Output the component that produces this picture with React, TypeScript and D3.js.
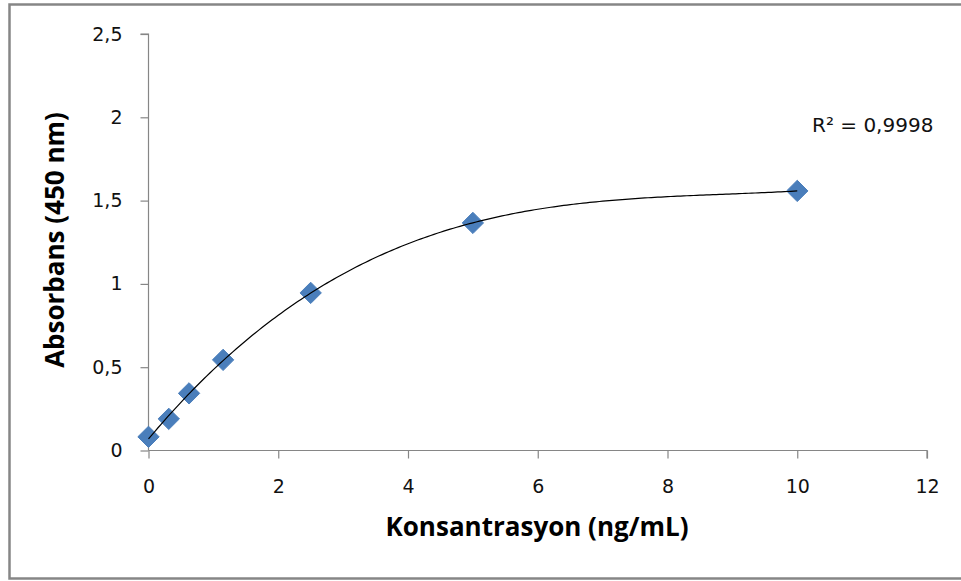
import React, { useEffect, useRef } from 'react'
import * as d3 from 'd3'

const concentrations = [0, 0.3125, 0.625, 1.15, 2.5, 5, 10]
const absorbance = [0.082, 0.19, 0.343, 0.544, 0.946, 1.366, 1.558]
const xTicks = [0, 2, 4, 6, 8, 10, 12]
const yTicks = [0, 0.5, 1, 1.5, 2, 2.5]
const xTitle = 'Konsantrasyon (ng/mL)'
const yTitle = 'Absorbans (450 nm)'
const r2Label = 'R² = 0,9998'

const W = 961
const H = 581
const tickFont = '"DejaVu Sans", sans-serif'
const titleFont = '"Open Sans", sans-serif'

// least squares polynomial fit (Excel trendline, order 3)
function polyFit (xs: number[], ys: number[], order: number) {
  const n = order + 1
  const A: number[][] = []
  for (let i = 0; i < n; i++) {
    A.push([])
    for (let j = 0; j <= n; j++) A[i].push(0)
  }
  xs.forEach((x, k) => {
    for (let i = 0; i < n; i++) {
      for (let j = 0; j < n; j++) A[i][j] += Math.pow(x, i + j)
      A[i][n] += ys[k] * Math.pow(x, i)
    }
  })
  for (let c = 0; c < n; c++) {
    let p = c
    for (let r = c + 1; r < n; r++) if (Math.abs(A[r][c]) > Math.abs(A[p][c])) p = r
    const tmp = A[c]; A[c] = A[p]; A[p] = tmp
    for (let r = 0; r < n; r++) {
      if (r === c) continue
      const f = A[r][c] / A[c][c]
      for (let j = c; j <= n; j++) A[r][j] -= f * A[c][j]
    }
  }
  return A.map((row, i) => row[n] / A[i][i])
}

const App = () => {
  const ref = useRef<SVGSVGElement>(null)

  useEffect(() => {
    const svg = d3.select(ref.current)
    svg.selectAll('*').remove()

    const x = d3.scaleLinear().domain([0, 12]).range([148.5, 927])
    const y = d3.scaleLinear().domain([0, 2.5]).range([450.5, 34])

    // outer frame (right edge falls outside the picture)
    svg.append('rect')
      .attr('x', 9.5).attr('y', 4.5)
      .attr('width', 960).attr('height', 574)
      .attr('fill', '#fff')
      .attr('stroke', '#868686')
      .attr('stroke-width', 2.5)

    const xAxis = d3.axisBottom(x).tickValues(xTicks).tickSize(8).tickSizeOuter(8)
      .tickFormat(d => String(d))
    const yAxis = d3.axisLeft(y).tickValues(yTicks).tickSize(8).tickSizeOuter(8)
      .tickFormat(d => String(d).replace('.', ','))

    const gx = svg.append('g').attr('transform', `translate(0,${y(0)})`).call(xAxis)
    const gy = svg.append('g').attr('transform', `translate(${x(0)},0)`).call(yAxis)
    for (const g of [gx, gy]) {
      g.selectAll('path, line').attr('stroke', '#868686').attr('stroke-width', 1.2)
      g.selectAll('text').attr('fill', '#111').style('font-family', tickFont).style('font-size', '19px')
    }
    gx.selectAll('text').attr('y', 0).attr('dy', 0).attr('transform', 'translate(0,42)')
    gy.selectAll('text').attr('x', -26)
    gy.select('.domain').attr('d', `M-8,${y(2.5)}H0V${y(0)}`)
    gx.select('.domain').attr('d', `M${x(0)},0H${x(12)}V8`)

    // trendline
    const coef = polyFit(concentrations, absorbance, 3)
    const fx = (v: number) => coef.reduce((s, c, i) => s + c * Math.pow(v, i), 0)
    const samples = d3.range(0, 10.001, 0.05)
    const line = d3.line<number>().x(d => x(d)).y(d => y(fx(d)))

    // points
    const diamond = d3.symbol().type(d3.symbolDiamond2).size(290)
    svg.append('g')
      .selectAll('path')
      .data(concentrations.map((c, i) => [c, absorbance[i]]))
      .join('path')
      .attr('transform', d => `translate(${x(d[0])},${y(d[1])})`)
      .attr('d', diamond)
      .attr('fill', '#4a7ebb')
      .attr('stroke', '#4a7ebb')
      .attr('stroke-width', 1)

    svg.append('path')
      .datum(samples)
      .attr('d', line)
      .attr('fill', 'none')
      .attr('stroke', '#000')
      .attr('stroke-width', 1.2)

    svg.append('text')
      .attr('x', 812).attr('y', 132)
      .attr('fill', '#111')
      .style('font-family', tickFont).style('font-size', '20px')
      .text(r2Label)

    svg.append('text')
      .attr('x', 537).attr('y', 536)
      .attr('text-anchor', 'middle')
      .style('font-family', titleFont).style('font-size', '26px').style('font-weight', 'bold')
      .text(xTitle)

    svg.append('text')
      .attr('transform', `translate(64,240) rotate(-90)`)
      .attr('text-anchor', 'middle')
      .style('font-family', titleFont).style('font-size', '26px').style('font-weight', 'bold')
      .text(yTitle)
  }, [])

  return (
    <svg ref={ref} width={W} height={H} style={{ position: 'absolute', left: 0, top: 0 }} />
  )
}

export default App
